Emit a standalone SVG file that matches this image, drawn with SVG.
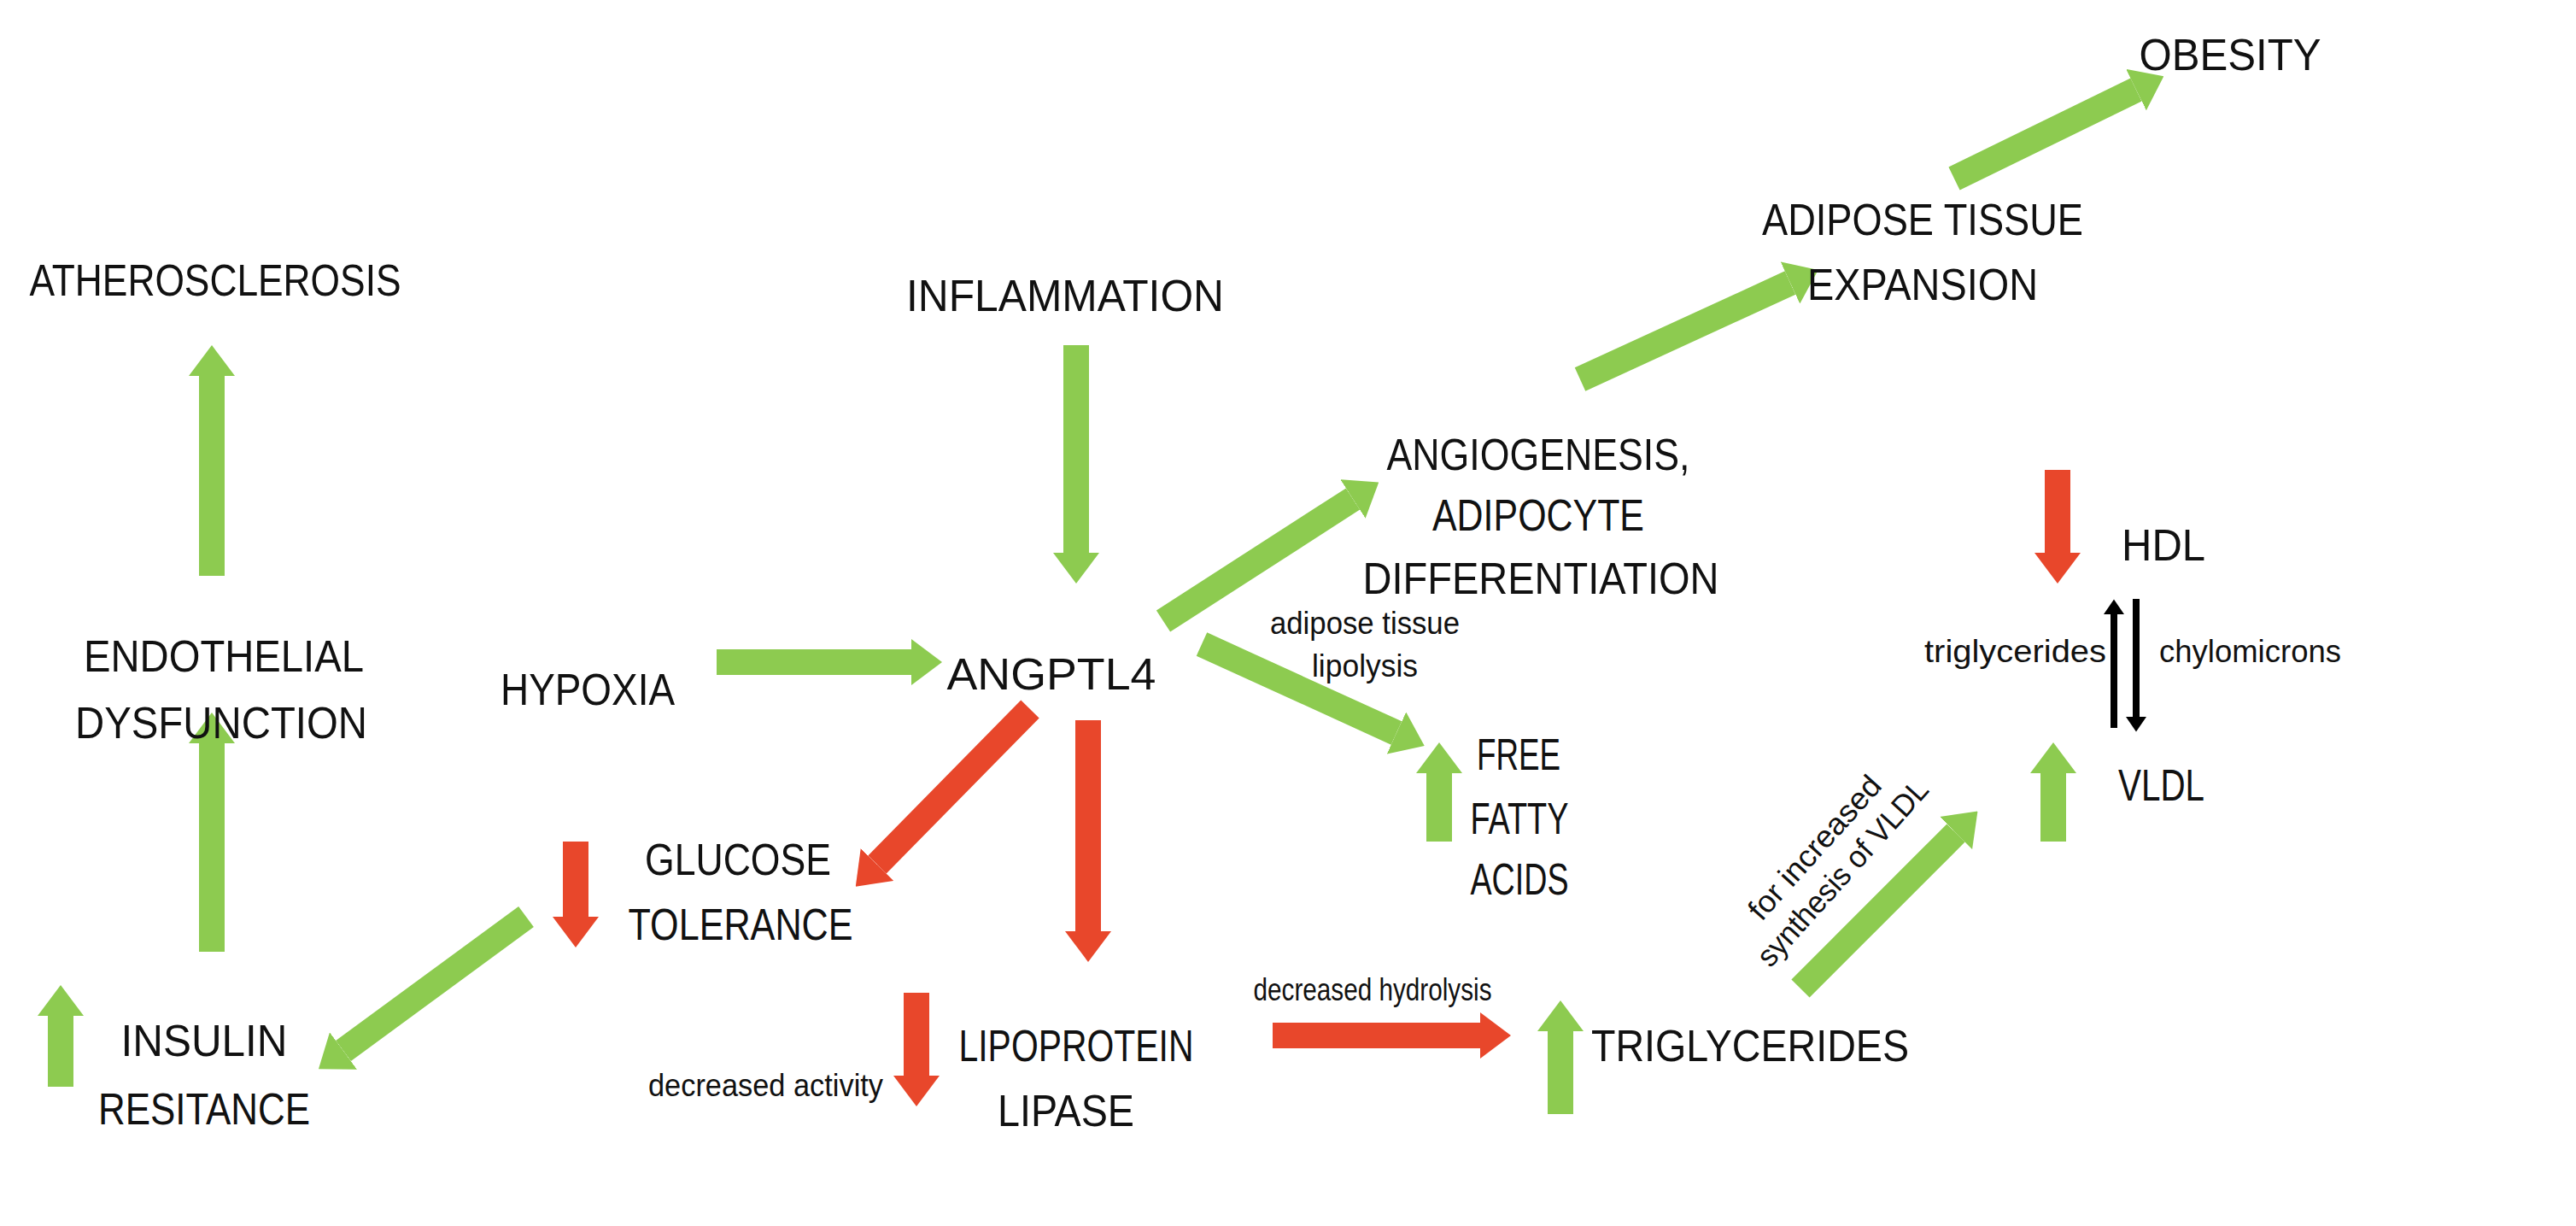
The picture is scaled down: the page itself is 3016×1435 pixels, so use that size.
<svg xmlns="http://www.w3.org/2000/svg" width="3016" height="1435" viewBox="0 0 3016 1435">
<style>
text{font-family:"Liberation Sans",Arial,sans-serif;fill:#111}
.b{font-size:52px;text-anchor:middle}
.s{font-size:36px;text-anchor:middle}
.g{stroke:#8DCB50;stroke-width:30;fill:none}
.r{stroke:#E8472B;stroke-width:30;fill:none}
.k{stroke:#000;stroke-width:8;fill:none}
</style>
<defs>
<marker id="mg" viewBox="0 0 12 18" refX="0" refY="9" markerWidth="1.2" markerHeight="1.8" preserveAspectRatio="none" orient="auto"><path d="M0,0L12,9L0,18z" fill="#8DCB50"/></marker>
<marker id="mr" viewBox="0 0 12 18" refX="0" refY="9" markerWidth="1.2" markerHeight="1.8" preserveAspectRatio="none" orient="auto"><path d="M0,0L12,9L0,18z" fill="#E8472B"/></marker>
<marker id="mk" viewBox="0 0 12 18" refX="0" refY="9" markerWidth="2.2" markerHeight="3" preserveAspectRatio="none" orient="auto"><path d="M0,0L12,9L0,18z" fill="#000"/></marker>
</defs>
<rect width="3016" height="1435" fill="#fff"/>
<g id="connectors">
<line class="g" x1="2288" y1="209" x2="2501" y2="105" marker-end="url(#mg)"/>
<line class="g" x1="1850" y1="444" x2="2096" y2="331" marker-end="url(#mg)"/>
<line class="g" x1="1260" y1="404" x2="1260" y2="647" marker-end="url(#mg)"/>
<line class="g" x1="1362" y1="727" x2="1584" y2="584" marker-end="url(#mg)"/>
<line class="r" x1="2409" y1="550" x2="2409" y2="647" marker-end="url(#mr)"/>
<line class="k" x1="2475" y1="852" x2="2475" y2="719" marker-end="url(#mk)"/>
<line class="k" x1="2501" y1="701" x2="2501" y2="839" marker-end="url(#mk)"/>
<line class="g" x1="248" y1="674" x2="248" y2="440" marker-end="url(#mg)"/>
<line class="g" x1="248" y1="1114" x2="248" y2="870" marker-end="url(#mg)"/>
<line class="g" x1="839" y1="775" x2="1067" y2="775" marker-end="url(#mg)"/>
<line class="g" x1="1407" y1="754" x2="1635" y2="858" marker-end="url(#mg)"/>
<line class="g" x1="1685" y1="985" x2="1685" y2="905" marker-end="url(#mg)"/>
<line class="r" x1="1206" y1="830" x2="1027" y2="1012" marker-end="url(#mr)"/>
<line class="r" x1="1274" y1="843" x2="1274" y2="1090" marker-end="url(#mr)"/>
<line class="r" x1="674" y1="985" x2="674" y2="1073" marker-end="url(#mr)"/>
<line class="g" x1="616" y1="1073" x2="402" y2="1230" marker-end="url(#mg)"/>
<line class="g" x1="71" y1="1272" x2="71" y2="1189" marker-end="url(#mg)"/>
<line class="r" x1="1073" y1="1162" x2="1073" y2="1259" marker-end="url(#mr)"/>
<line class="r" x1="1490" y1="1212" x2="1733" y2="1212" marker-end="url(#mr)"/>
<line class="g" x1="1827" y1="1304" x2="1827" y2="1207" marker-end="url(#mg)"/>
<line class="g" x1="2108" y1="1157" x2="2290" y2="975" marker-end="url(#mg)"/>
<line class="g" x1="2404" y1="985" x2="2404" y2="905" marker-end="url(#mg)"/>
</g>
<g id="obesity"><text class="b" x="2611" y="82" textLength="213" lengthAdjust="spacingAndGlyphs">OBESITY</text></g>
<g id="adipose"><text class="b" x="2251" y="275" textLength="376" lengthAdjust="spacingAndGlyphs">ADIPOSE TISSUE</text><text class="b" x="2251" y="351" textLength="270" lengthAdjust="spacingAndGlyphs">EXPANSION</text></g>
<g id="athero"><text class="b" x="252" y="346" textLength="435" lengthAdjust="spacingAndGlyphs">ATHEROSCLEROSIS</text></g>
<g id="inflammation"><text class="b" x="1247" y="364" textLength="372" lengthAdjust="spacingAndGlyphs">INFLAMMATION</text></g>
<g id="angiogenesis"><text class="b" x="1801" y="550" textLength="355" lengthAdjust="spacingAndGlyphs">ANGIOGENESIS,</text><text class="b" x="1801" y="621" textLength="248" lengthAdjust="spacingAndGlyphs">ADIPOCYTE</text><text class="b" x="1804" y="695" textLength="417" lengthAdjust="spacingAndGlyphs">DIFFERENTIATION</text></g>
<g id="hdl"><text class="b" x="2484" y="656" style="text-anchor:start" textLength="98" lengthAdjust="spacingAndGlyphs">HDL</text></g>
<g id="hdl-vldl-labels"><text class="s" x="2466" y="775" style="text-anchor:end" textLength="213" lengthAdjust="spacingAndGlyphs">triglycerides</text><text class="s" x="2528" y="775" style="text-anchor:start" textLength="213" lengthAdjust="spacingAndGlyphs">chylomicrons</text></g>
<g id="endothelial"><text class="b" x="262" y="786" textLength="328" lengthAdjust="spacingAndGlyphs">ENDOTHELIAL</text><text class="b" x="259" y="864" textLength="342" lengthAdjust="spacingAndGlyphs">DYSFUNCTION</text></g>
<g id="hypoxia"><text class="b" x="688" y="825" textLength="204" lengthAdjust="spacingAndGlyphs">HYPOXIA</text></g>
<g id="angptl4"><text class="b" x="1231" y="807" textLength="245" lengthAdjust="spacingAndGlyphs">ANGPTL4</text></g>
<g id="lipolysis-label"><text class="s" x="1598" y="742" textLength="222" lengthAdjust="spacingAndGlyphs">adipose tissue</text><text class="s" x="1598" y="792" textLength="124" lengthAdjust="spacingAndGlyphs">lipolysis</text></g>
<g id="ffa"><text class="b" x="1778" y="901" textLength="98" lengthAdjust="spacingAndGlyphs">FREE</text><text class="b" x="1779" y="976" textLength="115" lengthAdjust="spacingAndGlyphs">FATTY</text><text class="b" x="1779" y="1047" textLength="115" lengthAdjust="spacingAndGlyphs">ACIDS</text></g>
<g id="glucose"><text class="b" x="864" y="1024" textLength="218" lengthAdjust="spacingAndGlyphs">GLUCOSE</text><text class="b" x="867" y="1100" textLength="263" lengthAdjust="spacingAndGlyphs">TOLERANCE</text></g>
<g id="insulin"><text class="b" x="239" y="1236" textLength="195" lengthAdjust="spacingAndGlyphs">INSULIN</text><text class="b" x="239" y="1316" textLength="248" lengthAdjust="spacingAndGlyphs">RESITANCE</text></g>
<g id="activity-label"><text class="s" x="1034" y="1283" style="text-anchor:end" textLength="275" lengthAdjust="spacingAndGlyphs">decreased activity</text></g>
<g id="lpl"><text class="b" x="1260" y="1242" textLength="275" lengthAdjust="spacingAndGlyphs">LIPOPROTEIN</text><text class="b" x="1248" y="1318" textLength="160" lengthAdjust="spacingAndGlyphs">LIPASE</text></g>
<g id="hydrolysis-label"><text class="s" x="1607" y="1171" textLength="279" lengthAdjust="spacingAndGlyphs">decreased hydrolysis</text></g>
<g id="triglycerides"><text class="b" x="2049" y="1242" textLength="372" lengthAdjust="spacingAndGlyphs">TRIGLYCERIDES</text></g>
<g id="vldl-label"><text class="s" transform="translate(2150,1015) rotate(-48)"><tspan x="0" y="-22" textLength="213" lengthAdjust="spacingAndGlyphs">for increased</tspan><tspan x="0" y="22" textLength="280" lengthAdjust="spacingAndGlyphs">synthesis of VLDL</tspan></text></g>
<g id="vldl"><text class="b" x="2480" y="937" style="text-anchor:start" textLength="101" lengthAdjust="spacingAndGlyphs">VLDL</text></g>
</svg>
